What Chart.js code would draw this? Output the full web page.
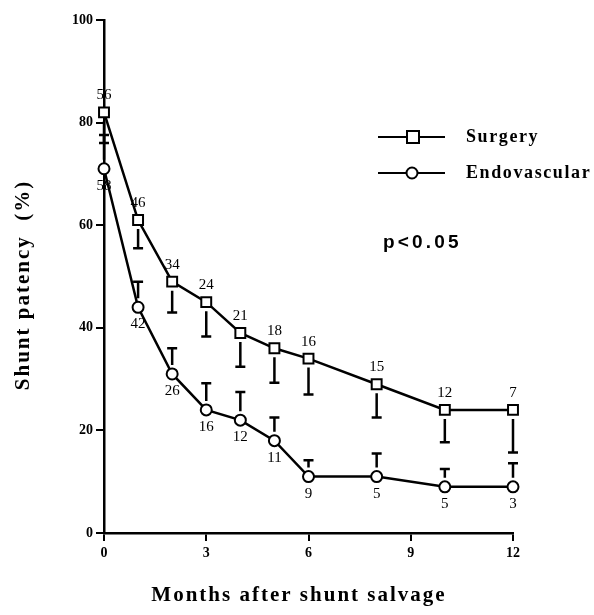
<!DOCTYPE html>
<html>
<head>
<meta charset="utf-8">
<script src="https://cdn.jsdelivr.net/npm/chart.js@4"></script>
<style>
  html, body { margin: 0; padding: 0; background: #fff; }
  #wrap { width: 594px; height: 615px; position: relative; }
</style>
</head>
<body>
<div id="wrap"><canvas id="patencyChart"></canvas></div>
<script>
// data
const months = [0, 1, 2, 3, 4, 5, 6, 8, 10, 12];
const surgery = [82, 61, 49, 45, 39, 36, 34, 29, 24, 24];
const surgeryLow = [76, 55.5, 43, 38.3, 32.4, 29.3, 27, 22.5, 17.7, 15.7];
const surgeryN = [56, 46, 34, 24, 21, 18, 16, 15, 12, 7];
const endo = [71, 44, 31, 24, 22, 18, 11, 11, 9, 9];
const endoHigh = [77.6, 49, 36, 29.2, 27.5, 22.5, 14.2, 15.5, 12.5, 13.6];
const endoN = [58, 42, 26, 16, 12, 11, 9, 5, 5, 3];
const xTicks = [0, 3, 6, 9, 12];
const yTicks = [0, 20, 40, 60, 80, 100];

const serif = '"Liberation Serif", "Times New Roman", serif';
const sans = '"Liberation Sans", Arial, sans-serif';

const toPts = (ys) => months.map((m, i) => ({ x: m, y: ys[i] }));

// error bars, n labels, legend and axis titles
const extras = {
  id: 'extras',
  beforeDatasetsDraw(chart) {
    const { ctx, scales: { x, y } } = chart;
    ctx.save();
    ctx.strokeStyle = '#000';
    ctx.lineWidth = 2.5;
    const bar = (m, v, end, dir) => {
      const px = x.getPixelForValue(m);
      const y0 = y.getPixelForValue(v) + dir * 9;
      const y1 = y.getPixelForValue(end);
      ctx.beginPath();
      ctx.moveTo(px, y0);
      ctx.lineTo(px, y1);
      ctx.moveTo(px - 5, y1);
      ctx.lineTo(px + 5, y1);
      ctx.stroke();
    };
    months.forEach((m, i) => {
      bar(m, surgery[i], surgeryLow[i], 1);
      bar(m, endo[i], endoHigh[i], -1);
    });
    ctx.restore();
  },
  afterDatasetsDraw(chart) {
    const { ctx, scales: { x, y } } = chart;
    ctx.save();
    ctx.fillStyle = '#000';
    ctx.textAlign = 'center';
    ctx.textBaseline = 'middle';
    ctx.font = '15px ' + serif;
    months.forEach((m, i) => {
      const px = x.getPixelForValue(m);
      ctx.fillText(String(surgeryN[i]), px, y.getPixelForValue(surgery[i]) - 17);
      ctx.fillText(String(endoN[i]), px, y.getPixelForValue(endo[i]) + 17);
    });

    // legend
    ctx.lineWidth = 2;
    ctx.strokeStyle = '#000';
    const legRow = (yy, label, square) => {
      ctx.beginPath();
      ctx.moveTo(378, yy);
      ctx.lineTo(445, yy);
      ctx.stroke();
      ctx.fillStyle = '#fff';
      ctx.beginPath();
      if (square) ctx.rect(407, yy - 6, 12, 12);
      else ctx.arc(412, yy, 5.5, 0, Math.PI * 2);
      ctx.fill();
      ctx.stroke();
      ctx.fillStyle = '#000';
      ctx.textAlign = 'left';
      ctx.font = 'bold 18px ' + serif;
      ctx.letterSpacing = '1.6px';
      ctx.fillText(label, 466, yy);
      ctx.letterSpacing = '0px';
    };
    legRow(137, 'Surgery', true);
    legRow(173, 'Endovascular', false);

    ctx.textAlign = 'left';
    ctx.font = 'bold 19px ' + sans;
    ctx.letterSpacing = '3.2px';
    ctx.fillText('p<0.05', 383, 243);

    // axis titles
    ctx.font = 'bold 21px ' + serif;
    ctx.letterSpacing = '2px';
    ctx.textAlign = 'center';
    ctx.fillText('Months after shunt salvage', 299, 596);
    ctx.translate(24, 285);
    ctx.rotate(-Math.PI / 2);
    ctx.font = 'bold 21px ' + serif;
    ctx.letterSpacing = '2px';
    ctx.fillText('Shunt patency  (%)', 0, 0);
    ctx.restore();
  }
};

const ctx = document.getElementById('patencyChart').getContext('2d');
new Chart(ctx, {
  type: 'scatter',
  data: {
    datasets: [{
      label: 'Surgery',
      data: toPts(surgery),
      showLine: true,
      borderColor: '#000',
      borderWidth: 2.5,
      pointStyle: 'rect',
      pointRadius: 7,
      pointBorderWidth: 2,
      pointBackgroundColor: '#fff',
      pointBorderColor: '#000',
      clip: false
    }, {
      label: 'Endovascular',
      data: toPts(endo),
      showLine: true,
      borderColor: '#000',
      borderWidth: 2.5,
      pointStyle: 'circle',
      pointRadius: 5.5,
      pointBorderWidth: 2,
      pointBackgroundColor: '#fff',
      pointBorderColor: '#000',
      clip: false
    }]
  },
  options: {
    responsive: true,
    maintainAspectRatio: false,
    animation: false,
    layout: { padding: { top: 20, right: 81, left: 0, bottom: 0 } },
    plugins: { legend: { display: false }, tooltip: { enabled: false } },
    scales: {
      x: {
        type: 'linear',
        min: 0,
        max: 12,
        afterBuildTicks: s => { s.ticks = xTicks.map(v => ({ value: v })); },
        afterFit: s => { s.height = 82; },
        grid: { drawOnChartArea: false, tickLength: 8, color: '#000', lineWidth: 2 },
        border: { color: '#000', width: 2.5 },
        ticks: { color: '#000', font: { family: serif, size: 14, weight: 'bold' }, padding: 4, maxRotation: 0 }
      },
      y: {
        min: 0,
        max: 100,
        afterBuildTicks: s => { s.ticks = yTicks.map(v => ({ value: v })); },
        afterFit: s => { s.width = 104; },
        grid: { drawOnChartArea: false, tickLength: 8, color: '#000', lineWidth: 2 },
        border: { color: '#000', width: 2.5 },
        ticks: { color: '#000', font: { family: serif, size: 14, weight: 'bold' }, padding: 3 }
      }
    }
  },
  plugins: [extras]
});
</script>
</body>
</html>
